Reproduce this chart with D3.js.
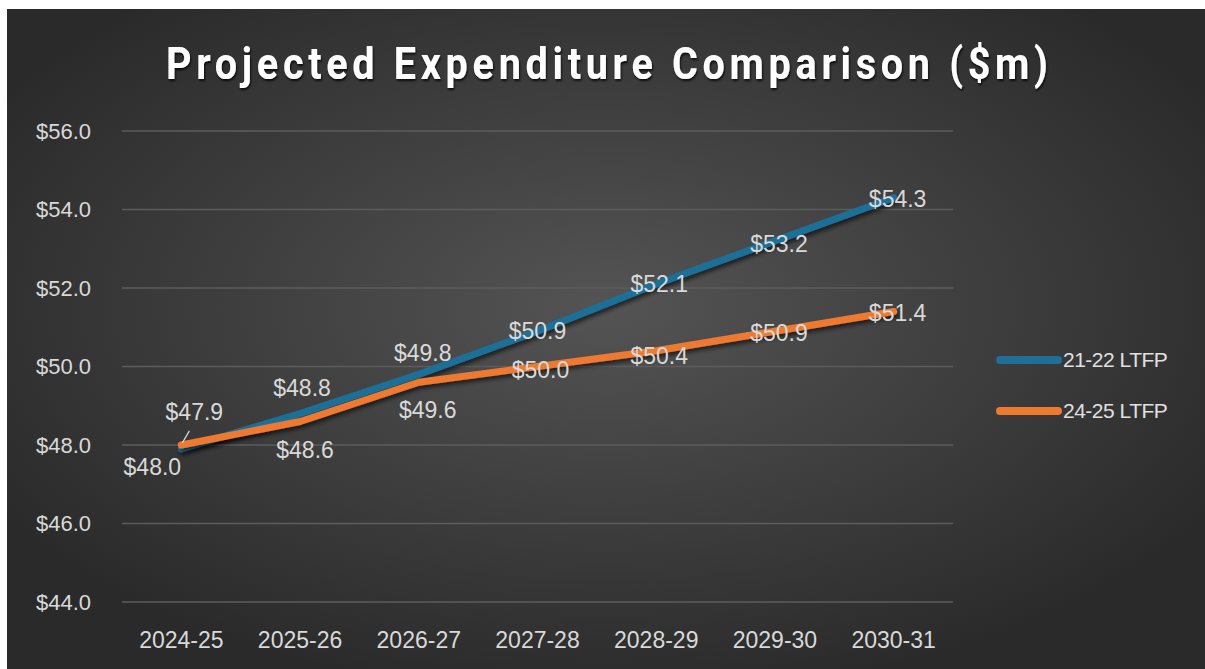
<!DOCTYPE html>
<html>
<head>
<meta charset="utf-8">
<script src="https://cdn.jsdelivr.net/npm/d3@7"></script>
<style>
  body { margin: 0; background: #ffffff; }
  svg { display: block; }
</style>
</head>
<body>
<div id="chart"></div>
<script>
// chart values
const years = ["2024-25", "2025-26", "2026-27", "2027-28", "2028-29", "2029-30", "2030-31"];
const ltfp2122 = [47.9, 48.8, 49.8, 50.9, 52.1, 53.2, 54.3];
const ltfp2425 = [48.0, 48.6, 49.6, 50.0, 50.4, 50.9, 51.4];
const seriesNames = ["21-22 LTFP", "24-25 LTFP"];
const yTicks = [44, 46, 48, 50, 52, 54, 56];

const width = 1205, height = 669;
const colors = ["#1f6f98", "#ee7a30"];

const svg = d3.select("#chart").append("svg")
    .attr("width", width)
    .attr("height", height);

const defs = svg.append("defs");
const grad = defs.append("radialGradient")
    .attr("id", "bg")
    .attr("cx", "50%").attr("cy", "45%").attr("r", "60%");
grad.append("stop").attr("offset", "0%").attr("stop-color", "#545454");
grad.append("stop").attr("offset", "100%").attr("stop-color", "#2a2a2a");

const shadow = defs.append("filter").attr("id", "shadow")
    .attr("x", "-10%").attr("y", "-10%").attr("width", "120%").attr("height", "130%");
shadow.append("feDropShadow")
    .attr("dx", 2).attr("dy", 3).attr("stdDeviation", 2)
    .attr("flood-color", "#000").attr("flood-opacity", 0.6);

const tshadow = defs.append("filter").attr("id", "tshadow");
tshadow.append("feDropShadow")
    .attr("dx", 1).attr("dy", 2).attr("stdDeviation", 1.2)
    .attr("flood-color", "#000").attr("flood-opacity", 0.8);

// background panel
svg.append("rect")
    .attr("x", 7).attr("y", 9)
    .attr("width", width - 7).attr("height", height - 9)
    .attr("fill", "url(#bg)");

// title - condensed look by squeezing horizontally, then spacing the letters out
const titleSqueeze = 0.9;
svg.append("text")
    .attr("transform", "translate(607,79) scale(" + titleSqueeze + ",1)")
    .attr("text-anchor", "middle")
    .attr("textLength", 882 / titleSqueeze)
    .attr("lengthAdjust", "spacing")
    .attr("filter", "url(#tshadow)")
    .style("font-family", "Roboto, 'Noto Sans', sans-serif")
    .style("font-weight", "bold")
    .style("font-size", "44px")
    .style("fill", "#ffffff")
    .text("Projected Expenditure Comparison ($m)");

const x = d3.scaleBand()
    .domain(years)
    .range([122, 953]);

const y = d3.scaleLinear()
    .domain([44, 56])
    .range([602, 131]);

// gridlines
svg.append("g")
    .selectAll("line")
    .data(yTicks)
    .join("line")
    .attr("x1", 122).attr("x2", 953)
    .attr("y1", d => y(d)).attr("y2", d => y(d))
    .attr("stroke", "#5c5c5c")
    .attr("stroke-width", 1.5);

// y axis labels
const yAxis = svg.append("g")
    .attr("transform", "translate(91,0)")
    .call(d3.axisLeft(y).tickValues(yTicks).tickSize(0).tickPadding(0)
        .tickFormat(d => "$" + d3.format(".1f")(d)));
yAxis.select(".domain").remove();
yAxis.selectAll("text")
    .attr("x", 0)
    .style("font-family", "'Liberation Sans', Arial, sans-serif")
    .style("font-size", "22px")
    .style("fill", "#d9d9d9");

// x axis labels
const xAxis = svg.append("g")
    .attr("transform", "translate(0,640)")
    .call(d3.axisBottom(x).tickSize(0).tickPadding(0));
xAxis.select(".domain").remove();
xAxis.selectAll("text")
    .attr("dy", "0.35em")
    .style("font-family", "'Liberation Sans', Arial, sans-serif")
    .style("font-size", "23px")
    .style("fill", "#d9d9d9");

const line = d3.line()
    .x((d, i) => x(years[i]) + x.bandwidth() / 2)
    .y(d => y(d));

const allSeries = [ltfp2122, ltfp2425];

allSeries.forEach((vals, s) => {
    svg.append("path")
        .datum(vals)
        .attr("fill", "none")
        .attr("stroke", colors[s])
        .attr("stroke-width", 7)
        .attr("stroke-linejoin", "round")
        .attr("stroke-linecap", "round")
        .attr("filter", "url(#shadow)")
        .attr("d", line);
});

// data label nudges (dx, dy) so the labels sit as in the source
const nudge = [
    [[13, -37], [2, -26], [4, -21], [0, 0], [3, 0], [4, 3], [4, 1]],
    [[-29, 22], [5, 28], [9, 28], [3, 3], [3, 5], [4, 2], [4, 1]]
];

allSeries.forEach((vals, s) => {
    svg.append("g")
        .selectAll("text")
        .data(vals)
        .join("text")
        .attr("x", (d, i) => x(years[i]) + x.bandwidth() / 2 + nudge[s][i][0])
        .attr("y", (d, i) => y(d) + nudge[s][i][1])
        .attr("dy", "0.35em")
        .attr("text-anchor", "middle")
        .style("font-family", "'Liberation Sans', Arial, sans-serif")
        .style("font-size", "23px")
        .style("fill", "#d9d9d9")
        .text(d => "$" + d3.format(".1f")(d));
});

// leader line for first blue label
svg.append("line")
    .attr("x1", x(years[0]) + x.bandwidth() / 2 + 8)
    .attr("y1", y(ltfp2122[0]) - 18)
    .attr("x2", x(years[0]) + x.bandwidth() / 2 + 1)
    .attr("y2", y(ltfp2122[0]) - 6)
    .attr("stroke", "#d9d9d9")
    .attr("stroke-width", 1.2);

// legend
const legend = svg.append("g")
    .selectAll("g")
    .data(seriesNames)
    .join("g")
    .attr("transform", (d, i) => "translate(1000," + (360 + i * 51) + ")");
legend.append("line")
    .attr("x1", 0).attr("x2", 58)
    .attr("stroke", (d, i) => colors[i])
    .attr("stroke-width", 8)
    .attr("stroke-linecap", "round");
legend.append("text")
    .attr("x", 63)
    .attr("dy", "0.35em")
    .style("font-family", "'Liberation Sans', Arial, sans-serif")
    .style("font-size", "21px")
    .style("letter-spacing", "-0.5px")
    .style("fill", "#e0e0e0")
    .text(d => d);
</script>
</body>
</html>
